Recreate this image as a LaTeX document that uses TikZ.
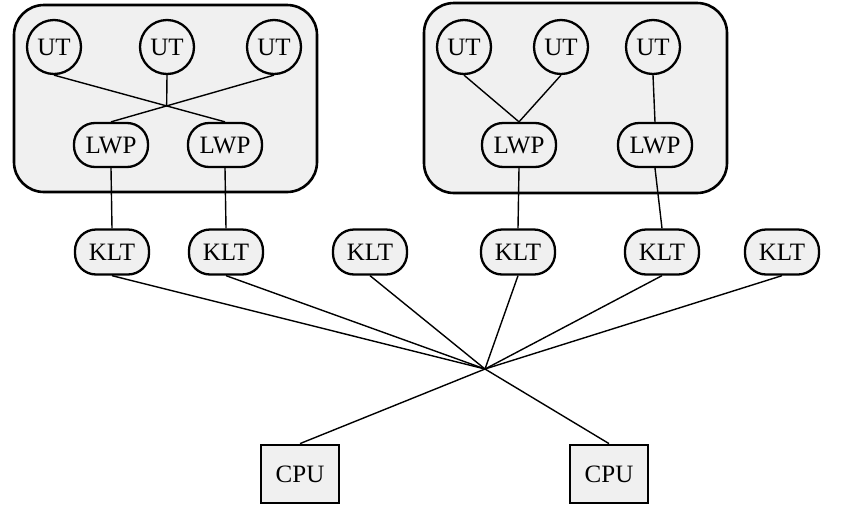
\documentclass[tikz,border=0pt]{standalone}
\usepackage{fontspec}
\setmainfont{Liberation Serif}
\begin{document}
\begin{tikzpicture}[x=1pt,y=-1pt,
  lbl/.style={font=\fontsize{25}{29}\selectfont, inner sep=0pt},
  grp/.style={draw, line width=2.6pt, rounded corners=30pt, fill=gray!12},
  ut/.style={lbl, circle, draw, line width=2.3pt, fill=gray!12, minimum size=54pt},
  pill/.style={lbl, draw, line width=2.3pt, fill=gray!12, rounded corners=21pt, minimum width=74pt, minimum height=44pt},
  cpu/.style={lbl, draw, line width=2.8pt, fill=gray!12, minimum width=78pt, minimum height=58pt},
  link/.style={line width=1.4pt}]
\useasboundingbox (0,0) rectangle (846,512);
% groups
\node[grp, minimum width=303pt, minimum height=187pt, inner sep=0pt] (g1) at (165.5,98.5) {};
\node[grp, minimum width=303pt, minimum height=190pt, inner sep=0pt] (g2) at (575.5,98) {};
% left group
\node[ut] (u1) at (54,47) {UT};
\node[ut] (u2) at (167,47) {UT};
\node[ut] (u3) at (274,47) {UT};
\node[pill] (l1) at (111,145) {LWP};
\node[pill] (l2) at (225,145) {LWP};
% right group
\node[ut] (u4) at (464,47) {UT};
\node[ut] (u5) at (561,47) {UT};
\node[ut] (u6) at (653,47) {UT};
\node[pill] (l3) at (519,145) {LWP};
\node[pill] (l4) at (655,145) {LWP};
% KLTs
\node[pill, minimum height=45pt] (k1) at (112,252) {KLT};
\node[pill, minimum height=45pt] (k2) at (226,252) {KLT};
\node[pill, minimum height=45pt] (k3) at (370,252) {KLT};
\node[pill, minimum height=45pt] (k4) at (518,252) {KLT};
\node[pill, minimum height=45pt] (k5) at (662,252) {KLT};
\node[pill, minimum height=45pt] (k6) at (782,252) {KLT};
% CPUs
\node[cpu] (c1) at (300,474) {CPU};
\node[cpu] (c2) at (609,474) {CPU};
\coordinate (hub) at (485,369);
\coordinate (x1) at (intersection of u1.south--l2.north and u3.south--l1.north);
% connectors
\draw[link] (u1.south) -- (l2.north);
\draw[link] (u3.south) -- (l1.north);
\draw[link] (u2.south) -- (x1);
\draw[link] (u4.south) -- (l3.north);
\draw[link] (u5.south) -- (l3.north);
\draw[link] (u6.south) -- (l4.north);
\draw[link] (l1.south) -- (k1.north);
\draw[link] (l2.south) -- (k2.north);
\draw[link] (l3.south) -- (k4.north);
\draw[link] (l4.south) -- (k5.north);
\foreach \k in {k1,k2,k3,k4,k5,k6} \draw[link] (\k.south) -- (hub);
\draw[link] (hub) -- (c1.north);
\draw[link] (hub) -- (c2.north);
\end{tikzpicture}
\end{document}
